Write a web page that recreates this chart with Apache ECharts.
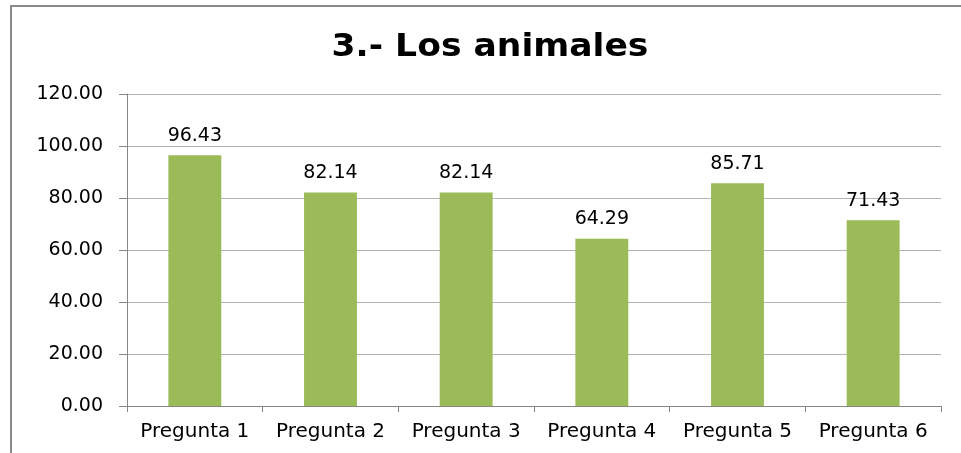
<!DOCTYPE html>
<html><head><meta charset="utf-8">
<script src="https://cdn.jsdelivr.net/npm/echarts@6/dist/echarts.min.js"></script>
<style>html,body{margin:0;padding:0;background:#fff}#c{width:961px;height:453px}</style>
</head><body><div id="c"></div>
<script>
const categories = ['Pregunta 1','Pregunta 2','Pregunta 3','Pregunta 4','Pregunta 5','Pregunta 6'];
const values = [96.43, 82.14, 82.14, 64.29, 85.71, 71.43];
const titleText = '3.- Los animales';

const chart = echarts.init(document.getElementById('c'), null, {renderer:'canvas'});
const font = '"DejaVu Sans", sans-serif';
chart.setOption({
  animation: false,
  backgroundColor: '#fff',
  graphic: [{
    type: 'rect', z: 100, silent: true,
    shape: {x: 11, y: 6, width: 1100, height: 600},
    style: {fill: 'none', stroke: '#8a8a8a', lineWidth: 2}
  }, {
    type: 'text', x: 490, y: 48, scaleX: 1.08, originX: 0, silent: true,
    style: {text: titleText, align: 'center', verticalAlign: 'middle',
      font: 'bold 32px "DejaVu Sans", sans-serif', fill: '#000'}
  }],
  grid: {left: 127, right: 20, top: 94, bottom: 47, containLabel: false},
  xAxis: {
    type: 'category', data: categories,
    axisLine: {lineStyle: {color: '#868686', width: 1}},
    axisTick: {show: true, interval: 0, alignWithLabel: false, length: 6, lineStyle: {color: '#868686'}},
    axisLabel: {interval: 0, hideOverlap: false, fontFamily: font, fontSize: 20, color: '#000', margin: 16}
  },
  yAxis: {
    type: 'value', min: 0, max: 120, interval: 20,
    axisLine: {show: true, lineStyle: {color: '#868686'}},
    axisTick: {show: true, length: 8, lineStyle: {color: '#868686'}},
    splitLine: {lineStyle: {color: '#b3b3b3', width: 1}},
    axisLabel: {fontFamily: font, fontSize: 19, color: '#000', margin: 24,
      formatter: v => v.toFixed(2)}
  },
  series: [{
    type: 'bar', data: values, barWidth: '39%',
    itemStyle: {color: '#9bbb59'},
    label: {show: true, position: 'top', distance: 10, fontFamily: font, fontSize: 19, color: '#000',
      formatter: p => p.value.toFixed(2)}
  }]
});
</script></body></html>
